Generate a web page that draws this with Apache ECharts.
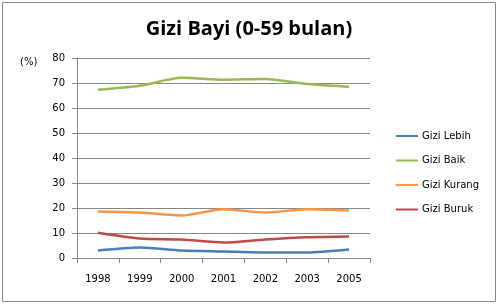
<!DOCTYPE html>
<html>
<head>
<meta charset="utf-8">
<script src="https://cdn.jsdelivr.net/npm/echarts@6/dist/echarts.min.js"></script>
<style>html,body{margin:0;padding:0;background:#fff;}#c{width:498px;height:304px;}</style>
</head>
<body>
<div id="c"></div>
<script>
const years = ['1998','1999','2000','2001','2002','2003','2005'];
const giziLebih = [3.0, 4.2, 3.0, 2.6, 2.2, 2.2, 3.4];
const giziBaik = [67.3, 68.9, 72.1, 71.3, 71.6, 69.6, 68.5];
const giziKurang = [18.6, 18.2, 17.0, 19.5, 18.2, 19.5, 19.0];
const giziBuruk = [10.1, 7.8, 7.4, 6.2, 7.4, 8.3, 8.6];
const yTicks = [0, 10, 20, 30, 40, 50, 60, 70, 80];

const chart = echarts.init(document.getElementById('c'), null, {renderer: 'canvas'});
const font = 'DejaVu Sans';
function s(name, data, color) {
  return {name, type: 'line', data, smooth: 0.25, symbol: 'none',
    lineStyle: {color, width: 2.5}, itemStyle: {color}};
}
chart.setOption({
  animation: false,
  title: {text: 'Gizi Bayi (0-59 bulan)', left: 'center', top: 14,
    textStyle: {fontFamily: 'Open Sans', fontWeight: 'bold', fontSize: 20, color: '#000'}},
  graphic: [
    {type: 'rect', shape: {x: 2.5, y: 2.5, width: 493, height: 299},
      style: {fill: null, stroke: '#888', lineWidth: 1}, silent: true},
    {type: 'text', left: 20, top: 57, style: {text: '(%)', font: '10px "DejaVu Sans"', fill: '#000'}}
  ],
  legend: {orient: 'vertical', left: 391, top: 126, itemGap: 14.5, itemWidth: 22, itemHeight: 12,
    icon: 'path://M0,5 L22,5 L22,7 L0,7 Z',
    textStyle: {fontFamily: font, fontSize: 10, color: '#000', padding: [0, 0, 0, -1]},
    data: ['Gizi Lebih', 'Gizi Baik', 'Gizi Kurang', 'Gizi Buruk']},
  grid: {left: 77, right: 128, top: 58, bottom: 46, containLabel: false},
  xAxis: {type: 'category', data: years, boundaryGap: true,
    axisLine: {lineStyle: {color: '#888'}},
    axisTick: {show: true, length: 5, lineStyle: {color: '#888'}},
    axisLabel: {fontFamily: font, fontSize: 10, color: '#000', margin: 16}},
  yAxis: {type: 'value', min: yTicks[0], max: yTicks[yTicks.length-1], interval: 10,
    axisLine: {show: true, lineStyle: {color: '#888'}},
    axisTick: {show: true, length: 5, lineStyle: {color: '#888'}},
    splitLine: {lineStyle: {color: '#888'}},
    axisLabel: {fontFamily: font, fontSize: 10, color: '#000', margin: 12}},
  series: [
    s('Gizi Lebih', giziLebih, '#4A7EBB'),
    s('Gizi Baik', giziBaik, '#98B954'),
    s('Gizi Kurang', giziKurang, '#F79646'),
    s('Gizi Buruk', giziBuruk, '#BE4B48')
  ]
});
</script>
</body>
</html>
